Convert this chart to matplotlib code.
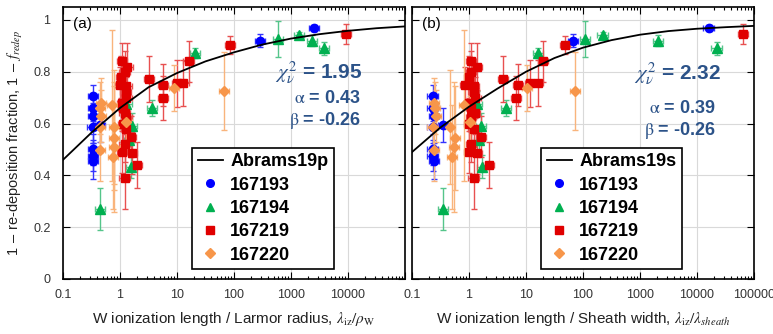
import numpy as np
import matplotlib

matplotlib.use("Agg")
import matplotlib.pyplot as plt
from matplotlib.lines import Line2D
from matplotlib.ticker import FixedLocator, LogLocator, NullFormatter

plt.rcParams["font.family"] = ["Liberation Sans", "DejaVu Sans"]
plt.rcParams["mathtext.fontset"] = "stix"

# shared y values (fraction), x differs by normalisation: larmor (a) / sheath (b)
blue_y = [0.705, 0.66, 0.63, 0.585, 0.595, 0.50, 0.475, 0.455, 0.92, 0.968]
blue_yerr = [0.045, 0.05, 0.05, 0.06, 0.065, 0.06, 0.06, 0.07, 0.025, 0.012]
blue_xp = [0.34, 0.34, 0.34, 0.33, 0.45, 0.34, 0.34, 0.34, 290, 2500]
blue_xs = [0.23, 0.23, 0.24, 0.23, 0.35, 0.23, 0.23, 0.24, 66, 16000]

green_y = [0.873, 0.925, 0.94, 0.92, 0.89, 0.66, 0.676, 0.59, 0.535, 0.433, 0.27]
green_yerr = [0.02, 0.07, 0.015, 0.02, 0.025, 0.03, 0.05, 0.05, 0.04, 0.045, 0.08]
green_xp = [21, 590, 1380, 2340, 3800, 3.6, 1.3, 1.6, 1.45, 1.55, 0.45]
green_xs = [16, 110, 220, 2100, 22000, 4.5, 1.4, 1.6, 1.5, 1.7, 0.35]

red_y = [0.772, 0.749, 0.70, 0.755, 0.756, 0.84, 0.903, 0.947,
         0.84, 0.82, 0.80, 0.78, 0.75, 0.745, 0.72, 0.70, 0.68, 0.66,
         0.64, 0.625, 0.60, 0.58, 0.55, 0.52, 0.49, 0.487, 0.44, 0.39]
red_yerr = [0.09, 0.08, 0.085, 0.09, 0.09, 0.08, 0.035, 0.038,
            0.07, 0.09, 0.08, 0.08, 0.07, 0.08, 0.09, 0.08, 0.07, 0.08,
            0.08, 0.09, 0.07, 0.08, 0.08, 0.07, 0.08, 0.08, 0.09, 0.12]
red_xp = [3.2, 5.6, 5.6, 10, 13, 16, 85, 9100,
          1.1, 1.35, 1.2, 1.05, 1.0, 1.3, 1.25, 1.3, 1.1, 1.15,
          1.2, 1.3, 1.15, 1.3, 1.55, 1.2, 1.1, 1.6, 2.0, 1.2]
red_xs = [4.0, 7.3, 6.6, 11.7, 16, 20, 48, 65000,
          1.1, 1.4, 1.1, 1.0, 0.85, 1.2, 1.2, 1.3, 1.0, 1.1,
          1.25, 1.1, 1.0, 1.2, 1.6, 1.1, 1.0, 1.4, 2.2, 1.2]

orange_y = [0.727, 0.737, 0.68, 0.66, 0.63, 0.585, 0.497, 0.67, 0.585, 0.545, 0.51, 0.47, 0.605]
orange_yerr = [0.15, 0.09, 0.095, 0.1, 0.1, 0.1, 0.12, 0.29, 0.22, 0.2, 0.25, 0.2, 0.1]
orange_xp = [66, 8.9, 0.46, 0.45, 0.47, 0.44, 0.45, 0.72, 0.78, 0.78, 0.8, 0.75, 1.3]
orange_xs = [72, 10.5, 0.24, 0.25, 0.26, 0.23, 0.24, 0.81, 0.46, 0.57, 0.54, 0.5, 1.05]

# fitted model curves
curve_x = [0.1, 0.316, 1, 3.16, 10, 31.6, 100, 316, 1000, 3162, 10000, 31623, 100000]
curve_p = [0.46, 0.565, 0.66, 0.74, 0.795, 0.84, 0.875, 0.905, 0.928, 0.945, 0.958, 0.968, 0.975]
curve_s = [0.49, 0.585, 0.665, 0.735, 0.80, 0.853, 0.893, 0.922, 0.943, 0.957, 0.966, 0.972, 0.977]

series_names = ["167193", "167194", "167219", "167220"]
fit_stats = {"a": ("1.95", "0.43", "-0.26"), "b": ("2.32", "0.39", "-0.26")}

colors = ["#0000FF", "#00B050", "#E00000", "#F7964A"]
err_colors = ["#3333FF", "#55C58A", "#E85050", "#F9B47C"]
markers = ["o", "^", "s", "D"]
msizes = [6, 6.5, 5.5, 5]
text_blue = "#2B5288"


def draw(ax, xs_list, curve_y, curve_label, stats, panel, xlabel, stat_pos):
    ys = [blue_y, green_y, red_y, orange_y]
    yerrs = [blue_yerr, green_yerr, red_yerr, orange_yerr]
    for x, y, ye, c, ec, m, ms in zip(xs_list, ys, yerrs, colors, err_colors, markers, msizes):
        x = np.asarray(x, float)
        xerr = [x - x / 10**0.09, x * 10**0.09 - x]
        ax.errorbar(x, y, yerr=ye, xerr=xerr, fmt="none", ecolor=ec,
                    elinewidth=1.0, capsize=2.2, capthick=1.0, zorder=2)
        ax.plot(x, y, ls="none", marker=m, ms=ms, color=c, mec=c, zorder=3)
    ax.plot(curve_x, curve_y, color="black", lw=1.3, zorder=4)

    ax.set_xscale("log")
    ax.set_xlim(0.1, 100000)
    ax.set_ylim(0, 1.05)
    ax.set_yticks([0, 0.2, 0.4, 0.6, 0.8, 1.0])
    ax.set_yticklabels(["0", "0.2", "0.4", "0.6", "0.8", "1"])
    ax.xaxis.set_major_locator(FixedLocator([0.1, 1, 10, 100, 1000, 10000, 100000]))
    ax.xaxis.set_minor_locator(LogLocator(base=10, subs=np.arange(2, 10)))
    ax.xaxis.set_minor_formatter(NullFormatter())
    ax.grid(True, which="major", color="#D9D9D9", lw=0.8, zorder=0)
    ax.set_axisbelow(True)
    ax.tick_params(which="both", direction="in", top=True, right=True,
                   labelsize=9, labelcolor="#333333", width=0.8)
    ax.tick_params(which="major", length=5)
    ax.tick_params(which="minor", length=2.5)
    ax.tick_params(axis="x", pad=7)
    ax.tick_params(axis="y", pad=9)
    for s in ax.spines.values():
        s.set_linewidth(1.2)
    ax.set_xlabel(xlabel, fontsize=11, color="#222222", labelpad=7)

    ax.text(0.03, 0.965, panel, transform=ax.transAxes, fontsize=11, va="top")
    sx, ay, by, cy_, ax2 = stat_pos
    ax.text(sx, cy_, r"$\boldsymbol{\chi^2_\nu}$ = " + stats[0], transform=ax.transAxes,
            fontsize=15, fontweight="bold", color=text_blue, ha="right", va="baseline")
    ax.text(ax2, ay, r"$\mathrm{\alpha}$ = " + stats[1], transform=ax.transAxes,
            fontsize=13, fontweight="bold", color=text_blue, ha="right", va="baseline")
    ax.text(ax2, by, r"$\mathrm{\beta}$ = " + stats[2], transform=ax.transAxes,
            fontsize=13, fontweight="bold", color=text_blue, ha="right", va="baseline")

    handles = [Line2D([], [], color="black", lw=1.3)]
    for c, m in zip(colors, markers):
        handles.append(Line2D([], [], ls="none", marker=m, ms=5.5, color=c))
    leg = ax.legend(handles, [curve_label] + series_names, loc="upper left",
                    bbox_to_anchor=(0.378, 0.482), fancybox=False, framealpha=1,
                    edgecolor="black", prop={"weight": "bold", "size": 13},
                    handlelength=1.4, handletextpad=0.4, labelspacing=0.35,
                    borderpad=0.3, borderaxespad=0)
    leg.get_frame().set_linewidth(1.2)
    leg.set_zorder(5)


fig = plt.figure(figsize=(7.73, 3.34), dpi=100)
ax_a = fig.add_axes([0.0815, 0.1647, 0.4424, 0.8144])
ax_b = fig.add_axes([0.533, 0.1647, 0.4424, 0.8144])

draw(ax_a, [blue_xp, green_xp, red_xp, orange_xp], curve_p, "Abrams19p", fit_stats["a"], "(a)",
     r"W ionization length / Larmor radius, $\lambda_{\mathrm{iz}}/\rho_{\mathrm{W}}$",
     (0.874, 0.647, 0.566, 0.739, 0.871))
draw(ax_b, [blue_xs, green_xs, red_xs, orange_xs], curve_s, "Abrams19s", fit_stats["b"], "(b)",
     r"W ionization length / Sheath width, $\lambda_{\mathrm{iz}}/\lambda_{sheath}$",
     (0.904, 0.61, 0.53, 0.732, 0.889))

ax_a.set_xticklabels(["0.1", "1", "10", "100", "1000", "10000", ""])
ax_b.set_xticklabels(["0.1", "1", "10", "100", "1000", "10000", "100000"])
ax_b.tick_params(labelleft=False)
ax_a.set_ylabel(r"1 $-$ re-deposition fraction, 1 $-$ $f_{redep}$", fontsize=10.5,
                color="#222222", labelpad=6)

fig.savefig("out.png", dpi=100)
